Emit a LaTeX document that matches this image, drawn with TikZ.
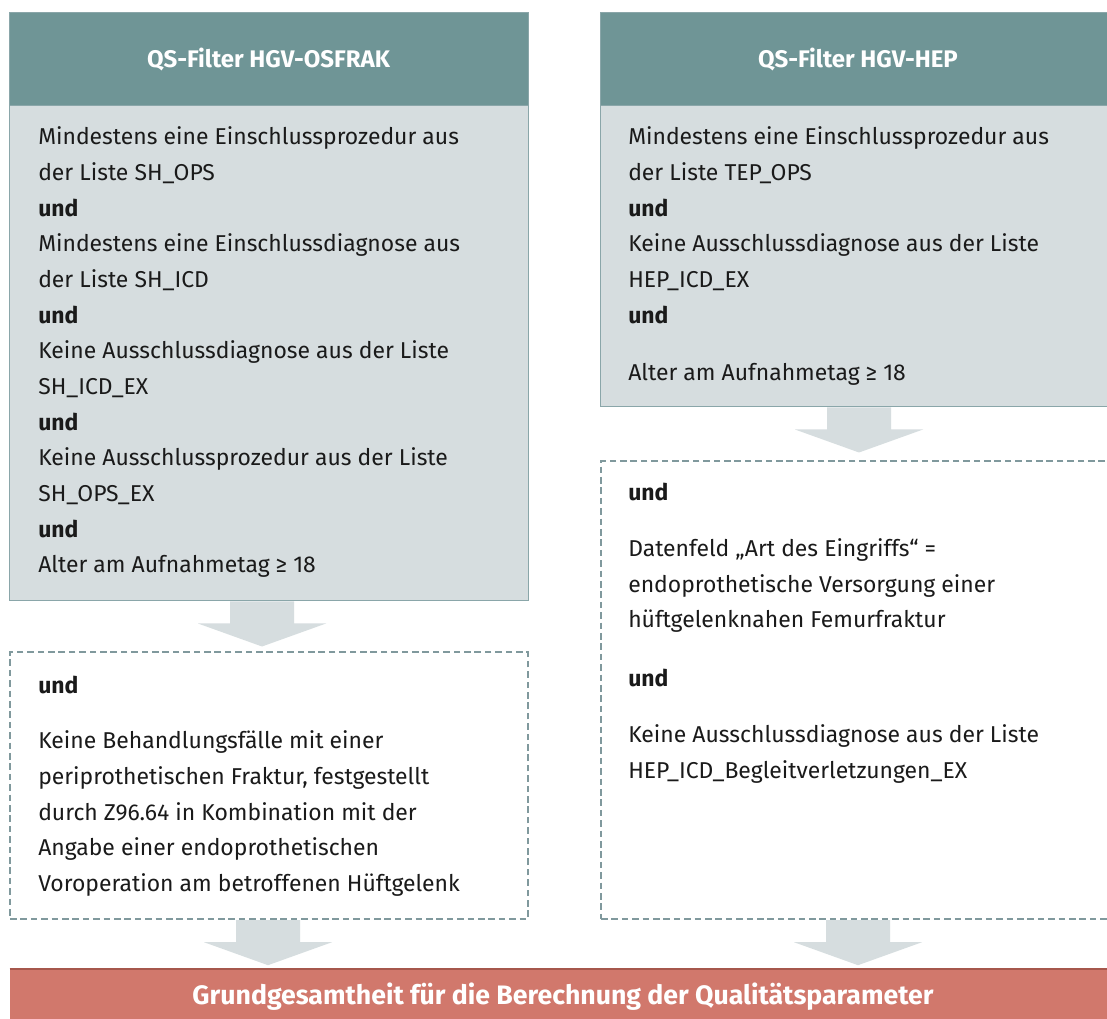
\documentclass[tikz,border=0pt]{standalone}
\usepackage{fontspec}
\setmainfont{Fira Sans}
\usetikzlibrary{calc,fit}
\definecolor{hdr}{HTML}{6F9596}
\definecolor{bodyfill}{HTML}{D6DDDF}
\definecolor{edge}{HTML}{8AA6A9}
\definecolor{dashc}{HTML}{80999D}
\definecolor{redfill}{HTML}{D1786C}
\definecolor{redline}{HTML}{A6574C}
\definecolor{txt}{HTML}{1A1A1A}
\begin{document}
\begin{tikzpicture}[x=0.75pt,y=-0.75pt,
  hdrbox/.style={draw=edge,fill=hdr,line width=0.75pt,inner sep=0},
  bodybox/.style={draw=edge,fill=bodyfill,line width=0.75pt,inner sep=0},
  dashbox/.style={draw=dashc,line width=1.8pt,dash pattern=on 5pt off 2.8pt,inner sep=0},
  redbox/.style={fill=redfill,inner sep=0},
  hdrtext/.style={text=white,font=\fontsize{18}{21}\selectfont\bfseries,inner sep=0},
  line/.style={anchor=base west,inner sep=0,text=txt,font=\fontsize{17.2}{20}\selectfont},
  undline/.style={line,font=\fontsize{17.2}{20}\selectfont\bfseries},
  blockarrow/.style={fill=bodyfill},
]
\useasboundingbox (0,0) rectangle (1107,1019);
\clip (0,0) rectangle (1107,1019);
\fill[white] (0,0) rectangle (1107,1019);

% left filter
\node[hdrbox,fit={(9,13) (528,106)}] (h1) {};
\node[bodybox,fit={(9,106) (528,601)}] (b1) {};
\node[hdrtext] (h1t) at (h1.center) {QS-Filter HGV-OSFRAK};
% right filter
\node[hdrbox,fit={(600,13) (1116,106)}] (h2) {};
\node[bodybox,fit={(600,106) (1116,407)}] (b2) {};
\node[hdrtext] (h2t) at (h2.center) {QS-Filter HGV-HEP};
% dashed boxes
\node[dashbox,fit={(10,652) (528,919)}] (d1) {};
\node[dashbox,fit={(601,461) (1118,919)}] (d2) {};
% result
\node[redbox,fit={(10,969) (1118,1030)}] (r) {};
\draw[redline,line width=1.8pt] (r.north west) -- (r.north east);
\node[text=white,font=\fontsize{20}{24}\selectfont\bfseries,inner sep=0] (rt) at (563,997) {Grundgesamtheit für die Berechnung der Qualitätsparameter};

% left body text
\node[line] (a1) at (38,145) {Mindestens eine Einschlussprozedur aus};
\node[line] (a2) at (38,180.7) {der Liste SH\_OPS};
\node[undline] (a3) at (38,216.3) {und};
\node[line] (a4) at (38,252) {Mindestens eine Einschlussdiagnose aus};
\node[line] (a5) at (38,287.7) {der Liste SH\_ICD};
\node[undline] (a6) at (38,323.3) {und};
\node[line] (a7) at (38,359) {Keine Ausschlussdiagnose aus der Liste};
\node[line] (a8) at (38,394.7) {SH\_ICD\_EX};
\node[undline] (a9) at (38,430.3) {und};
\node[line] (a10) at (38,466) {Keine Ausschlussprozedur aus der Liste};
\node[line] (a11) at (38,501.7) {SH\_OPS\_EX};
\node[undline] (a12) at (38,537.3) {und};
\node[line] (a13) at (38,573) {Alter am Aufnahmetag ≥ 18};

% right body text
\node[line] (c1) at (628,145) {Mindestens eine Einschlussprozedur aus};
\node[line] (c2) at (628,180.7) {der Liste TEP\_OPS};
\node[undline] (c3) at (628,216.3) {und};
\node[line] (c4) at (628,252) {Keine Ausschlussdiagnose aus der Liste};
\node[line] (c5) at (628,287.7) {HEP\_ICD\_EX};
\node[undline] (c6) at (628,323.3) {und};
\node[line] (c7) at (628,381) {Alter am Aufnahmetag ≥ 18};

% left dashed text
\node[undline] (e1) at (38,693) {und};
\node[line] (e2) at (38,748) {Keine Behandlungsfälle mit einer};
\node[line] (e3) at (38,784) {periprothetischen Fraktur, festgestellt};
\node[line] (e4) at (38,820) {durch Z96.64 in Kombination mit der};
\node[line] (e5) at (38,855) {Angabe einer endoprothetischen};
\node[line] (e6) at (38,891) {Voroperation am betroffenen Hüftgelenk};

% right dashed text
\node[undline] (f1) at (628,501) {und};
\node[line] (f2) at (628,557) {Datenfeld „Art des Eingriffs“ =};
\node[line] (f3) at (628,592.5) {endoprothetische Versorgung einer};
\node[line] (f4) at (628,628) {hüftgelenknahen Femurfraktur};
\node[undline] (f5) at (628,686) {und};
\node[line] (f6) at (628,742) {Keine Ausschlussdiagnose aus der Liste};
\node[line] (f7) at (628,778) {HEP\_ICD\_Begleitverletzungen\_EX};

% block arrows
\foreach \s/\t/\o in {b1/d1/-6.5, b2/d2/1, d1/r/-1, d2/r/-1.5}{
  \fill[blockarrow] let \p1=($(\s.south)+(\o,0)$), \p2=(\t.north) in
    (\x1-24pt,\y1) -- (\x1+24pt,\y1) -- (\x1+24pt,\y1-16.5pt) -- (\x1+48pt,\y1-16.5pt)
    -- (\x1,\y1-33.75pt) -- (\x1-48pt,\y1-16.5pt) -- (\x1-24pt,\y1-16.5pt) -- cycle;
}
\end{tikzpicture}
\end{document}
